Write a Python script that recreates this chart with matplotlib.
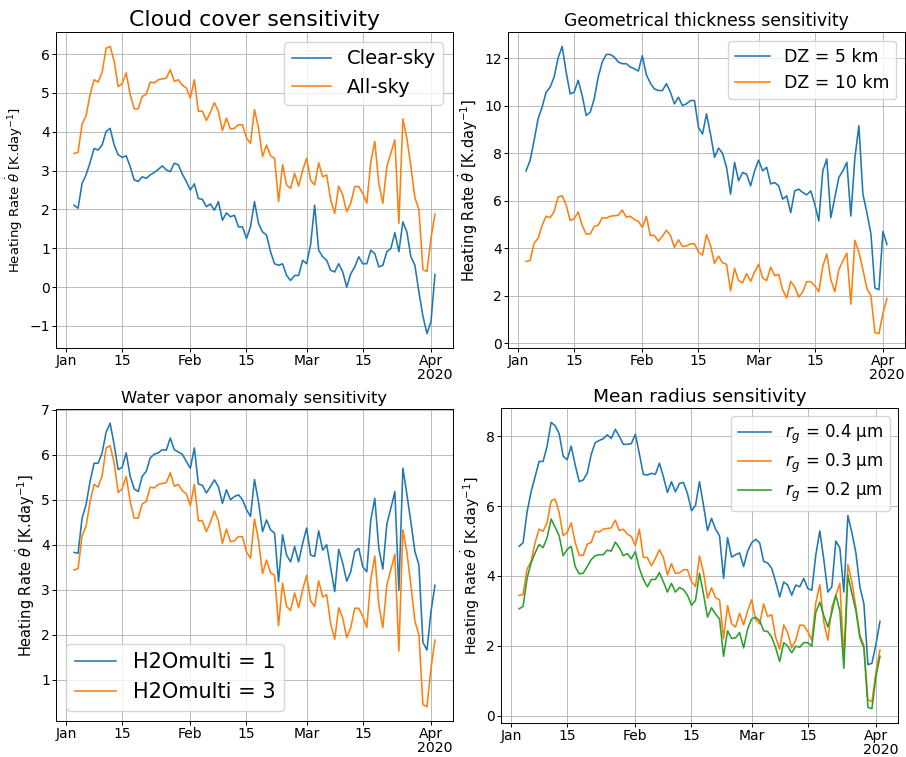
import matplotlib
matplotlib.use("Agg")
import matplotlib.pyplot as plt
import matplotlib.dates as mdates
import numpy as np
import pandas as pd

# Daily dates, 2020-01-03 .. 2020-04-02
dates = pd.date_range("2020-01-03", periods=91, freq="D")

# All-sky / DZ = 10 km / H2Omulti = 3 / r_g = 0.3 µm (same reference run)
all_sky = [
    3.44, 3.47, 4.2, 4.41, 4.96, 5.34, 5.28, 5.53, 6.15, 6.2,
    5.82, 5.16, 5.24, 5.52, 4.96, 4.59, 4.59, 4.91, 4.96, 5.28,
    5.26, 5.34, 5.36, 5.38, 5.6, 5.3, 5.34, 5.2, 5.13, 4.87,
    5.34, 4.53, 4.53, 4.29, 4.5, 4.75, 4.53, 4.03, 4.35, 4.07,
    4.09, 4.18, 4.18, 3.84, 3.7, 4.57, 4.1, 3.36, 3.66, 3.38,
    3.32, 2.2, 3.15, 2.63, 2.54, 2.93, 2.6, 3.0, 3.32, 2.75,
    2.63, 3.2, 2.84, 2.89, 2.24, 1.9, 2.6, 2.37, 1.94, 2.16,
    2.59, 2.59, 2.41, 2.16, 3.23, 3.75, 2.67, 2.16, 3.1, 3.45,
    3.79, 1.64, 4.33, 3.83, 3.1, 2.3, 2.0, 0.45, 0.4, 1.25, 1.88,
]

clear_sky = [
    2.11, 2.03, 2.67, 2.89, 3.21, 3.57, 3.53, 3.66, 4.01, 4.09,
    3.66, 3.41, 3.34, 3.38, 3.1, 2.76, 2.72, 2.84, 2.8, 2.89,
    2.95, 3.03, 3.12, 3.02, 2.97, 3.19, 3.15, 2.91, 2.72, 2.5,
    2.66, 2.28, 2.26, 2.07, 2.14, 1.98, 2.2, 1.72, 1.91, 1.81,
    1.85, 1.55, 1.55, 1.25, 1.55, 2.2, 1.64, 1.42, 1.34, 0.91,
    0.6, 0.56, 0.6, 0.3, 0.17, 0.3, 0.3, 0.69, 0.6, 1.1,
    2.11, 0.95, 0.78, 0.69, 0.43, 0.39, 0.6, 0.39, 0.0, 0.34,
    0.52, 0.78, 0.6, 0.6, 0.95, 0.86, 0.52, 0.56, 0.91, 0.99,
    1.4, 0.91, 1.68, 1.42, 0.78, 0.56, -0.13, -0.75, -1.2, -0.9, 0.32,
]

dz_5km = [
    7.25, 7.68, 8.52, 9.44, 9.93, 10.56, 10.77, 11.2, 12.0, 12.49,
    11.41, 10.49, 10.56, 11.06, 10.42, 9.58, 9.72, 10.28, 11.2, 11.83,
    12.15, 12.15, 12.04, 11.83, 11.76, 11.76, 11.62, 11.55, 11.45, 12.1,
    11.3, 10.94, 10.7, 10.63, 10.63, 10.92, 10.56, 10.07, 10.35, 10.0,
    10.07, 10.21, 10.21, 9.08, 8.8, 9.65, 8.8, 7.82, 8.21, 7.99,
    7.39, 6.27, 7.61, 6.83, 7.18, 7.11, 6.62, 7.25, 7.7, 7.25,
    7.4, 6.7, 6.76, 6.62, 6.06, 6.2, 5.49, 6.41, 6.48, 6.34,
    6.24, 6.41, 5.85, 5.14, 7.25, 7.75, 5.28, 6.13, 6.97, 7.25,
    7.61, 5.35, 7.8, 9.15, 6.27, 5.49, 4.6, 2.32, 2.25, 4.7, 4.15,
]

h2o_multi_1 = [
    3.83, 3.81, 4.59, 4.89, 5.41, 5.81, 5.81, 6.04, 6.5, 6.7,
    6.22, 5.67, 5.72, 6.04, 5.52, 5.24, 5.18, 5.52, 5.63, 5.93,
    6.01, 6.04, 6.11, 6.1, 6.37, 6.11, 6.06, 6.01, 5.85, 5.7,
    6.15, 5.35, 5.32, 5.15, 5.29, 5.44, 5.29, 4.92, 5.22, 5.0,
    5.07, 5.11, 5.0, 4.78, 4.63, 5.45, 4.95, 4.29, 4.55, 4.33,
    4.26, 3.18, 4.22, 3.77, 3.62, 3.96, 3.62, 4.03, 4.37, 3.77,
    3.74, 4.31, 3.88, 4.0, 3.48, 2.96, 3.9, 3.59, 3.19, 3.4,
    3.85, 3.92, 3.51, 3.4, 4.55, 5.03, 3.92, 3.46, 4.46, 4.81,
    5.18, 2.99, 5.7, 5.12, 4.5, 3.85, 3.55, 1.83, 1.66, 2.51, 3.1,
]

rg_04 = [
    4.85, 4.95, 5.83, 6.41, 6.84, 7.28, 7.28, 7.72, 8.4, 8.3,
    8.08, 7.43, 7.33, 7.72, 7.18, 6.7, 6.75, 6.94, 7.48, 7.82,
    7.88, 7.93, 8.04, 7.94, 8.2, 8.0, 7.77, 7.77, 7.79, 8.06,
    7.5, 6.91, 6.89, 6.94, 6.91, 7.23, 6.84, 6.39, 6.7, 6.41,
    6.65, 6.68, 6.36, 5.87, 6.02, 6.7, 6.02, 5.3, 5.65, 5.34,
    5.15, 3.93, 5.1, 4.54, 4.61, 4.66, 4.27, 4.71, 4.95, 5.05,
    4.95, 4.42, 4.37, 4.22, 3.83, 3.4, 3.83, 3.74, 3.45, 3.74,
    3.69, 3.93, 3.64, 3.59, 4.6, 5.29, 4.47, 3.54, 3.69, 5.0,
    4.8, 3.54, 5.73, 5.24, 4.66, 3.69, 3.2, 1.46, 1.5, 2.04, 2.7,
]

rg_02 = [
    3.06, 3.13, 3.93, 4.37, 4.66, 4.9, 4.81, 5.1, 5.63, 5.4,
    5.15, 4.58, 4.76, 4.85, 4.27, 4.06, 4.08, 4.27, 4.47, 4.58,
    4.61, 4.61, 4.74, 4.71, 4.97, 4.81, 4.58, 4.64, 4.49, 4.7,
    4.22, 3.9, 3.69, 3.9, 3.9, 4.1, 3.83, 3.54, 3.79, 3.54,
    3.67, 3.61, 3.45, 3.16, 3.3, 4.08, 3.48, 2.82, 3.09, 2.91,
    2.77, 1.7, 2.43, 2.21, 2.23, 2.38, 1.94, 2.48, 2.77, 2.82,
    2.72, 2.43, 2.41, 2.25, 1.94, 1.55, 2.09, 1.99, 1.8, 1.99,
    1.96, 2.09, 2.09, 1.99, 2.96, 3.25, 2.86, 2.54, 2.96, 3.45,
    3.0, 1.36, 4.03, 3.5, 3.01, 2.23, 1.94, 0.24, 0.2, 1.12, 1.7,
]

titles = [
    "Cloud cover sensitivity",
    "Geometrical thickness sensitivity",
    "Water vapor anomaly sensitivity",
    "Mean radius sensitivity",
]
ylabel = r"Heating Rate $\dot{\theta}$ [K.day$^{-1}$]"

W, H = 906, 757
fig = plt.figure(figsize=(W / 100, H / 100), dpi=100)

def px_axes(x0, y0, x1, y1):
    return fig.add_axes([x0 / W, 1 - y1 / H, (x1 - x0) / W, (y1 - y0) / H])

axes = [
    px_axes(56, 32, 453, 348),
    px_axes(508, 32, 905, 348),
    px_axes(56, 409, 453, 721),
    px_axes(501, 408, 898, 723),
]

series = [
    [(clear_sky, "Clear-sky"), (all_sky, "All-sky")],
    [(dz_5km, "DZ = 5 km"), (all_sky, "DZ = 10 km")],
    [(h2o_multi_1, "H2Omulti = 1"), (all_sky, "H2Omulti = 3")],
    [(rg_04, r"$r_g$ = 0.4 µm"), (all_sky, r"$r_g$ = 0.3 µm"), (rg_02, r"$r_g$ = 0.2 µm")],
]
legend_cfg = [("upper right", 14), ("upper right", 12.5), ("lower left", 15), ("upper right", 12)]
title_sizes = [15.8, 12.3, 11.8, 13.3]
ylabel_sizes = [9.5, 10.5, 10.5, 10.3]

for ax, title, ser, (loc, lfs), tfs, yfs in zip(axes, titles, series, legend_cfg,
                                                  title_sizes, ylabel_sizes):
    for vals, lab in ser:
        ax.plot(dates, vals, label=lab, linewidth=1.15)
    ax.set_title(title, fontsize=tfs, pad=4)
    ax.set_ylabel(ylabel, fontsize=yfs, labelpad=3)
    ax.grid(True, linewidth=0.6)
    for sp in ax.spines.values():
        sp.set_linewidth(0.7)
    loc_d = mdates.DayLocator(bymonthday=[1, 15])
    fmt = mdates.ConciseDateFormatter(
        loc_d,
        offset_formats=["", "%Y", "%Y", "%Y-%b-%d", "%Y-%b-%d", "%Y-%b-%d %H:%M"],
    )
    ax.xaxis.set_major_locator(loc_d)
    ax.xaxis.set_major_formatter(fmt)
    ax.tick_params(labelsize=10, length=2.6, pad=1.8, width=0.7)
    ax.xaxis.OFFSETTEXTPAD = 0
    ax.xaxis.get_offset_text().set_fontsize(10.2)
    if len(ser) == 3:
        ax.legend(loc=loc, fontsize=lfs, labelspacing=0.35)
    else:
        ax.legend(loc=loc, fontsize=lfs)

fig.savefig("out.png", dpi=100)
